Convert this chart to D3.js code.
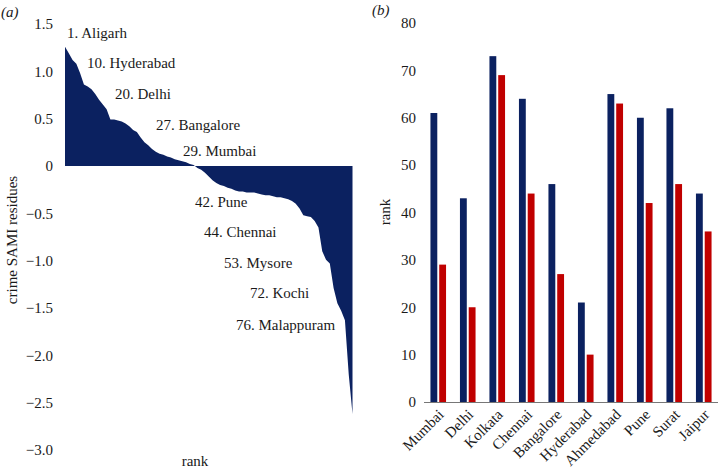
<!DOCTYPE html>
<html>
<head>
<meta charset="utf-8">
<script src="https://cdn.jsdelivr.net/npm/d3@7"></script>
<style>
  html, body { margin: 0; padding: 0; background: #fff; }
  svg { display: block; }
  text { font-family: "Liberation Serif", "Times New Roman", serif; fill: #1a1a1a; }
</style>
</head>
<body>
<svg id="chart" width="718" height="469"></svg>
<script>
// ---------- Panel (a) data: crime SAMI residues ordered by rank ----------
const residues = [
  1.26, 1.19, 1.12, 1.08, 0.98, 0.86, 0.84, 0.81, 0.76, 0.70,
  0.65, 0.60, 0.49, 0.49, 0.48, 0.47, 0.45, 0.42, 0.38, 0.36,
  0.30, 0.25, 0.22, 0.18, 0.15, 0.13, 0.12, 0.10, 0.09, 0.07,
  0.06, 0.05, 0.04, 0.02, 0.01, -0.02, -0.04, -0.07, -0.11, -0.15,
  -0.18, -0.20, -0.21, -0.23, -0.24, -0.26, -0.27, -0.27, -0.28, -0.28,
  -0.28, -0.29, -0.30, -0.31, -0.31, -0.32, -0.33, -0.33, -0.34, -0.35,
  -0.37, -0.40, -0.45, -0.52, -0.53, -0.54, -0.58, -0.65, -0.90, -0.99,
  -1.03, -1.29, -1.45, -1.53, -1.63, -2.20, -2.62
];
const residueTicks = [1.5, 1.0, 0.5, 0, -0.5, -1.0, -1.5, -2.0, -2.5, -3.0];
const annotations = ["1. Aligarh", "10. Hyderabad", "20. Delhi", "27. Bangalore", "29. Mumbai",
                     "42. Pune", "44. Chennai", "53. Mysore", "72. Kochi", "76. Malappuram"];

// ---------- Panel (b) data: ranks for 10 cities ----------
const cities = ["Mumbai", "Delhi", "Kolkata", "Chennai", "Bangalore", "Hyderabad",
                "Ahmedabad", "Pune", "Surat", "Jaipur"];
const rankA = [61, 43, 73, 64, 46, 21, 65, 60, 62, 44];   // navy
const rankB = [29, 20, 69, 44, 27, 10, 63, 42, 46, 36];   // red
const rankTicks = [0, 10, 20, 30, 40, 50, 60, 70, 80];

// ---------- styling / layout ----------
const NAVY = "#0b2160";
const RED = "#c00000";
const FS = 15;
const fmt = v => v === 0 ? "0" : (v < 0 ? "\u2212" : "") + Math.abs(v).toFixed(1);

const svg = d3.select("#chart");

// ================= Panel (a) =================
const ga = svg.append("g");
const xa = d3.scaleLinear().domain([1, residues.length]).range([65, 352.5]);
const ya = d3.scaleLinear().domain([-3, 1.5]).range([450, 24]);

const area = d3.area()
  .x((d, i) => xa(i + 1))
  .y0(ya(0))
  .y1(d => ya(d));
ga.append("path")
  .datum(residues)
  .attr("d", area)
  .attr("fill", NAVY);

// y axis (labels only)
const axA = d3.axisLeft(ya).tickValues(residueTicks).tickFormat(fmt).tickSize(0).tickPadding(0);
const gAxA = ga.append("g").attr("transform", "translate(53,0)").call(axA);
gAxA.select(".domain").remove();
gAxA.selectAll("text").attr("font-size", FS).attr("font-family", "Liberation Serif, serif").attr("fill", "#1a1a1a");

// annotation placement (pixel layout)
const annPos = [[67, 33], [87, 63], [115, 94], [156, 125], [183, 151],
                [195, 202], [204, 232], [224, 263], [250, 293], [236, 325]];
ga.selectAll("text.ann").data(annotations).join("text")
  .attr("class", "ann")
  .attr("x", (d, i) => annPos[i][0])
  .attr("y", (d, i) => annPos[i][1])
  .attr("dominant-baseline", "central")
  .attr("font-size", FS)
  .text(d => d);

ga.append("text").attr("x", 195).attr("y", 461).attr("text-anchor", "middle")
  .attr("dominant-baseline", "central").attr("font-size", FS).text("rank");
ga.append("text").attr("transform", "translate(12,240) rotate(-90)")
  .attr("text-anchor", "middle").attr("dominant-baseline", "central")
  .attr("font-size", FS).text("crime SAMI residues");
ga.append("text").attr("x", 1).attr("y", 12).attr("dominant-baseline", "central")
  .attr("font-size", FS).attr("font-style", "italic").text("(a)");

// ================= Panel (b) =================
const gb = svg.append("g");
const xb = d3.scaleBand().domain(cities).range([423.5, 718.5]).padding(0);
const xs = d3.scaleBand().domain(["a", "b"])
  .range([xb.bandwidth() / 2 - 7.8, xb.bandwidth() / 2 + 7.8]).paddingInner(0.22);
const yb = d3.scaleLinear().domain([0, 80]).range([402, 23]);

const rows = cities.map((c, i) => ({ city: c, a: rankA[i], b: rankB[i] }));
const grp = gb.selectAll("g.city").data(rows).join("g")
  .attr("class", "city")
  .attr("transform", d => `translate(${xb(d.city)},0)`);
grp.append("rect")
  .attr("x", xs("a")).attr("width", xs.bandwidth())
  .attr("y", d => yb(d.a)).attr("height", d => yb(0) - yb(d.a))
  .attr("fill", NAVY);
grp.append("rect")
  .attr("x", xs("b")).attr("width", xs.bandwidth())
  .attr("y", d => yb(d.b)).attr("height", d => yb(0) - yb(d.b))
  .attr("fill", RED);

// x axis line
const axB = d3.axisBottom(xb).tickSize(0).tickPadding(0);
const gAxB = gb.append("g").attr("transform", `translate(0,${yb(0)})`).call(axB);
gAxB.select(".domain").attr("stroke", "#777").attr("stroke-width", 1);
gAxB.selectAll("text")
  .attr("font-size", FS).attr("font-family", "Liberation Serif, serif").attr("fill", "#1a1a1a")
  .attr("text-anchor", "end")
  .attr("dy", null).attr("y", null)
  .attr("dominant-baseline", "central")
  .attr("transform", "translate(3,10) rotate(-45)");

// y axis labels
const axBy = d3.axisLeft(yb).tickValues(rankTicks).tickSize(0).tickPadding(0);
const gAxBy = gb.append("g").attr("transform", "translate(416,0)").call(axBy);
gAxBy.select(".domain").remove();
gAxBy.selectAll("text").attr("font-size", FS).attr("font-family", "Liberation Serif, serif").attr("fill", "#1a1a1a");

gb.append("text").attr("transform", "translate(385,212) rotate(-90)")
  .attr("text-anchor", "middle").attr("dominant-baseline", "central")
  .attr("font-size", FS).text("rank");
gb.append("text").attr("x", 372).attr("y", 10).attr("dominant-baseline", "central")
  .attr("font-size", FS).attr("font-style", "italic").text("(b)");
</script>
</body>
</html>
